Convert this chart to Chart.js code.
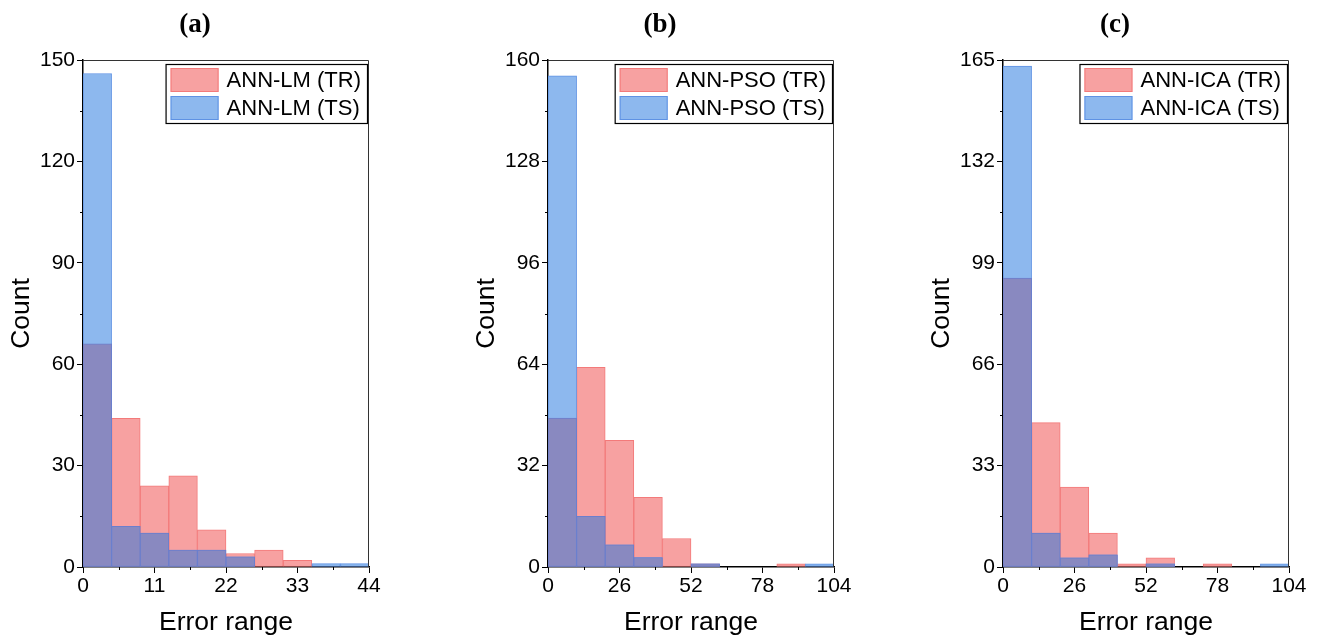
<!DOCTYPE html>
<html>
<head>
<meta charset="utf-8">
<script src="https://cdn.jsdelivr.net/npm/chart.js@4.4.1/dist/chart.umd.min.js"></script>
<style>
  body { margin: 0; background: #fff; width: 1320px; height: 639px; position: relative; overflow: hidden; }
  canvas { position: absolute; top: 0; }
</style>
</head>
<body>
<canvas id="a" width="390" height="639" style="left:0px"></canvas>
<canvas id="b" width="390" height="639" style="left:465px"></canvas>
<canvas id="c" width="390" height="639" style="left:920px"></canvas>
<script>
// bin starts (error range) for each panel
const binsA = [0, 4.4, 8.8, 13.2, 17.6, 22, 26.4, 30.8, 35.2, 39.6];
const binsB = [0, 10.4, 20.8, 31.2, 41.6, 52, 62.4, 72.8, 83.2, 93.6];
const binsC = [0, 10.4, 20.8, 31.2, 41.6, 52, 62.4, 72.8, 83.2, 93.6];

// counts, training (TR) and testing (TS)
const trainA = [66, 44, 24, 27, 11, 4, 5, 2, 0, 0];
const testA = [146, 12, 10, 5, 5, 3, 0, 0, 1, 1];
const trainB = [47, 63, 40, 22, 9, 1, 0, 0, 1, 0];
const testB = [155, 16, 7, 3, 0, 1, 0, 0, 0, 1];
const trainC = [94, 47, 26, 11, 1, 3, 0, 1, 0, 0];
const testC = [163, 11, 3, 4, 0, 1, 0, 0, 0, 1];

// tick labels
const xTicksA = [0, 11, 22, 33, 44];
const xTicksB = [0, 26, 52, 78, 104];
const xTicksC = [0, 26, 52, 78, 104];
const yTicksA = [0, 30, 60, 90, 120, 150];
const yTicksB = [0, 32, 64, 96, 128, 160];
const yTicksC = [0, 33, 66, 99, 132, 165];

const TITLES = ['(a)', '(b)', '(c)'];
const MODELS = ['ANN-LM', 'ANN-PSO', 'ANN-ICA'];

const RED = '#F7A1A1';
const RED_EDGE = '#F37A7A';
const BLUE = '#8DB8EE';
const BLUE_EDGE = '#5E92E4';
const PURPLE = '#8989C0';
const PURPLE_EDGE = '#6B7ECC';

const SANS = '"Liberation Sans", Arial, sans-serif';

// panel title, minor ticks, box frame and a framed legend inside the plot
const extras = {
    id: 'extras',
    afterDraw(chart) {
        const ctx = chart.ctx;
        const area = chart.chartArea;
        const xs = chart.scales.x2;
        const ys = chart.scales.y;
        ctx.save();

        // title
        ctx.fillStyle = '#000';
        ctx.font = 'bold 27px "Liberation Serif", "Times New Roman", serif';
        ctx.textAlign = 'center';
        ctx.textBaseline = 'middle';
        ctx.fillText(chart.options.panelTitle, 195, 25);

        // frame (top + right)
        ctx.strokeStyle = '#333';
        ctx.lineWidth = 1;
        ctx.beginPath();
        ctx.moveTo(area.left, area.top + 0.5);
        ctx.lineTo(area.right - 0.5, area.top + 0.5);
        ctx.lineTo(area.right - 0.5, area.bottom);
        ctx.stroke();

        // minor ticks
        ctx.strokeStyle = '#000';
        ctx.beginPath();
        for (let i = 0; i < xs.ticks.length - 1; i++) {
            const px = Math.round(xs.getPixelForValue((xs.ticks[i].value + xs.ticks[i + 1].value) / 2)) + 0.5;
            ctx.moveTo(px, area.bottom);
            ctx.lineTo(px, area.bottom + 3);
        }
        for (let i = 0; i < ys.ticks.length - 1; i++) {
            const py = Math.round(ys.getPixelForValue((ys.ticks[i].value + ys.ticks[i + 1].value) / 2)) + 0.5;
            ctx.moveTo(area.left, py);
            ctx.lineTo(area.left - 3, py);
        }
        ctx.stroke();

        // legend
        const items = chart.data.datasets.filter(d => !d.hideInLegend);
        ctx.font = '22px ' + SANS;
        const textW = Math.max(...items.map(d => ctx.measureText(d.label).width));
        const w = 61 + textW + 6;
        const h = 59;
        const left = area.right - 2 - w;
        const top = area.top + 4;
        ctx.fillStyle = '#fff';
        ctx.fillRect(left, top, w, h);
        ctx.strokeStyle = '#000';
        ctx.lineWidth = 1.2;
        ctx.strokeRect(left + 0.5, top + 0.5, w, h);
        items.forEach((d, i) => {
            const y = top + 4 + i * 28;
            ctx.fillStyle = d.backgroundColor;
            ctx.fillRect(left + 5, y, 48, 24);
            ctx.strokeStyle = d.borderColor;
            ctx.lineWidth = 1;
            ctx.strokeRect(left + 5.5, y + 0.5, 47, 23);
            ctx.fillStyle = '#000';
            ctx.textBaseline = 'middle';
            ctx.textAlign = 'left';
            ctx.fillText(d.label, left + 61, y + 13);
        });
        ctx.restore();
    }
};

const panels = [
    { id: 'a', bins: binsA, train: trainA, test: testA, xTicks: xTicksA, yTicks: yTicksA },
    { id: 'b', bins: binsB, train: trainB, test: testB, xTicks: xTicksB, yTicks: yTicksB },
    { id: 'c', bins: binsC, train: trainC, test: testC, xTicks: xTicksC, yTicks: yTicksC },
];

panels.forEach(function (p, index) {
    const overlap = p.train.map((v, i) => Math.min(v, p.test[i]));
    const barStyle = { grouped: false, barPercentage: 1, categoryPercentage: 1, borderWidth: 1, borderSkipped: false, xAxisID: 'x' };

    let config = {
        type: 'bar',
        data: {
            labels: p.bins.map(String),
            datasets: [
                // lower order is drawn on top
                Object.assign({ label: MODELS[index] + ' (TR)', order: 3, data: p.train, backgroundColor: RED, borderColor: RED_EDGE }, barStyle),
                Object.assign({ label: MODELS[index] + ' (TS)', order: 2, data: p.test, backgroundColor: BLUE, borderColor: BLUE_EDGE }, barStyle),
                Object.assign({ label: 'overlap', order: 1, hideInLegend: true, data: overlap, backgroundColor: PURPLE, borderColor: PURPLE_EDGE }, barStyle),
            ]
        },
        options: {
            panelTitle: TITLES[index],
            responsive: false,
            animation: false,
            devicePixelRatio: 1,
            layout: { padding: { left: 0, right: 21, top: 60, bottom: 0 } },
            plugins: {
                legend: { display: false },
                tooltip: { enabled: false }
            },
            scales: {
                x: {
                    type: 'category',
                    display: false,
                    offset: true
                },
                x2: {
                    type: 'linear',
                    position: 'bottom',
                    offset: false,
                    min: p.xTicks[0],
                    max: p.xTicks[p.xTicks.length - 1],
                    afterBuildTicks: (s) => { s.ticks = p.xTicks.map(v => ({ value: v })); },
                    afterFit: (s) => { s.height = 72; },
                    grid: { offset: false, drawOnChartArea: false, drawTicks: true, tickLength: 6, tickColor: '#000', tickWidth: 1 },
                    border: { color: '#000', width: 1.5 },
                    ticks: { color: '#000', padding: 1, maxRotation: 0, font: { family: SANS, size: 21 } },
                    title: { display: true, text: 'Error range', color: '#000', font: { family: SANS, size: 26.5 }, padding: { top: 4, bottom: 0 } }
                },
                y: {
                    min: p.yTicks[0],
                    max: p.yTicks[p.yTicks.length - 1],
                    afterBuildTicks: (s) => { s.ticks = p.yTicks.map(v => ({ value: v })); },
                    afterFit: (s) => { s.width = 83; },
                    grid: { drawOnChartArea: false, drawTicks: true, tickLength: 6, tickColor: '#000', tickWidth: 1 },
                    border: { color: '#000', width: 1.5 },
                    ticks: { color: '#000', padding: 2, font: { family: SANS, size: 21 } },
                    title: { display: true, text: 'Count', color: '#000', font: { family: SANS, size: 26.5 }, padding: { top: 6, bottom: 0 } }
                }
            }
        },
        plugins: [extras]
    };

    new Chart(document.getElementById(p.id), config);
});
</script>
</body>
</html>
